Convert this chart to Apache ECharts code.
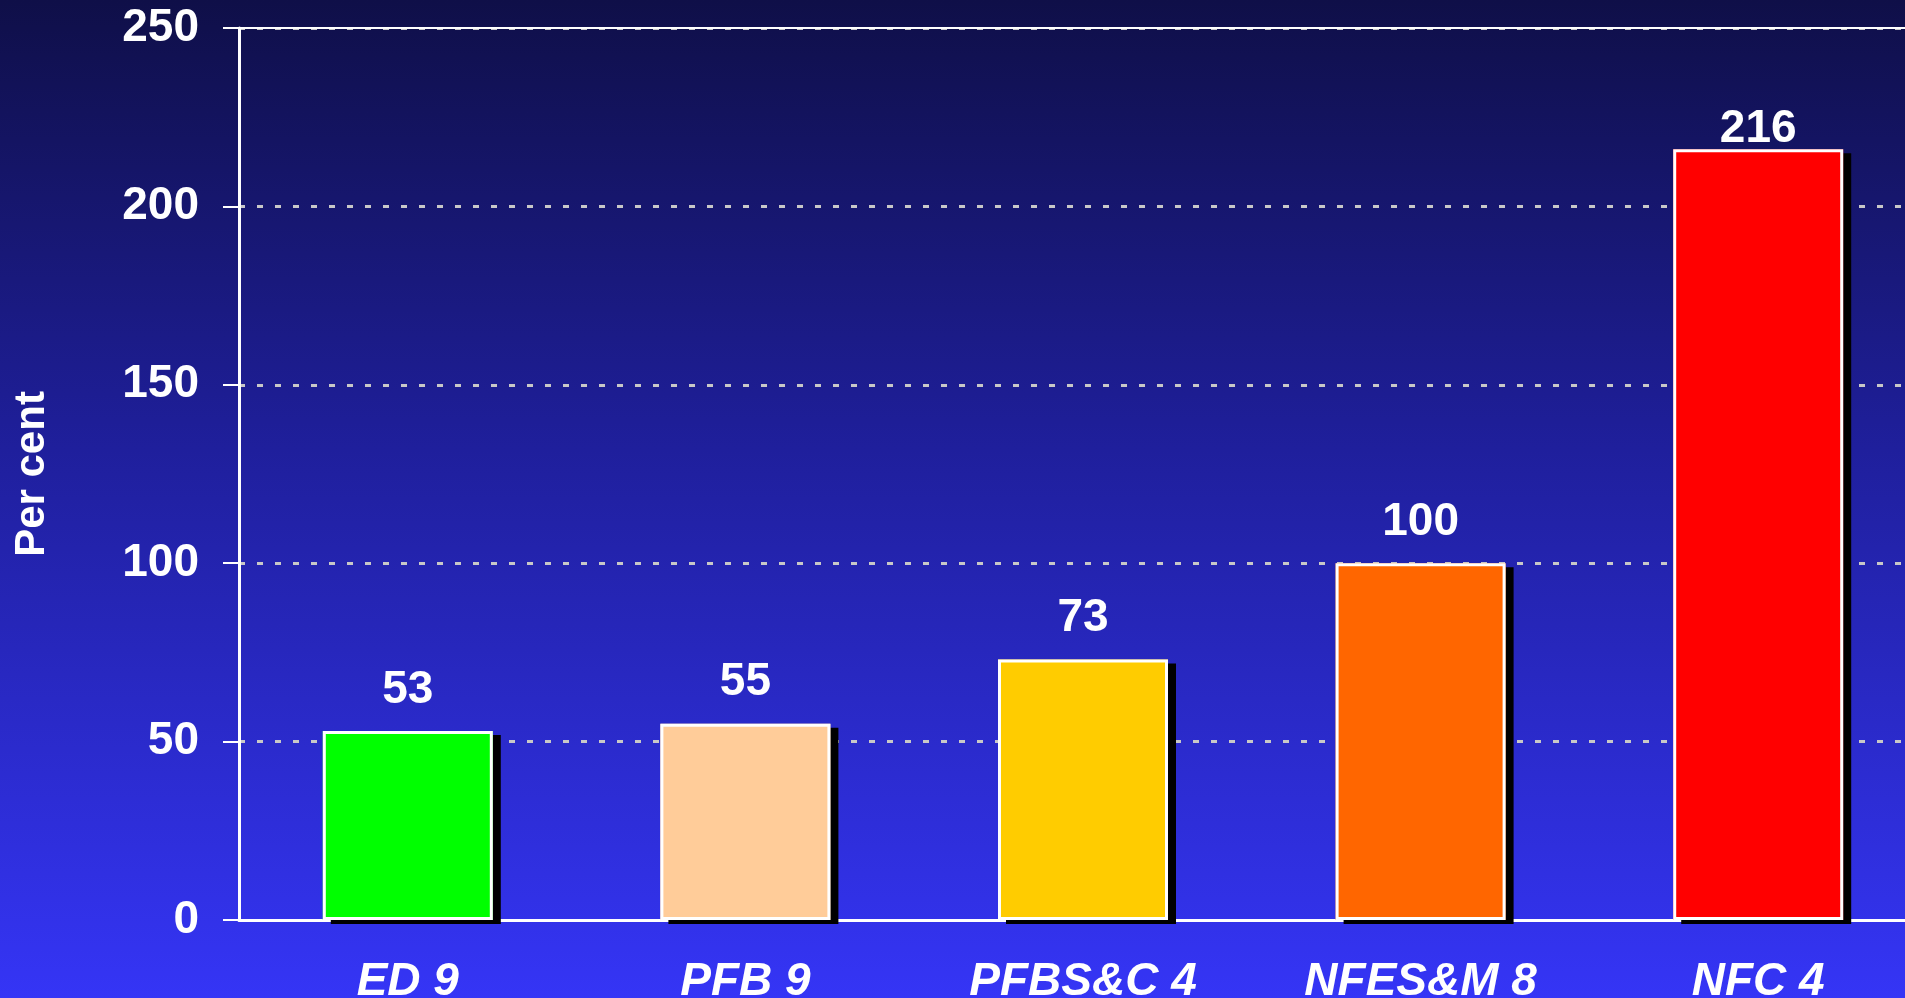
<!DOCTYPE html>
<html>
<head>
<meta charset="utf-8">
<script src="https://cdn.jsdelivr.net/npm/echarts@6/dist/echarts.min.js"></script>
<style>
  html, body { margin: 0; padding: 0; }
  #chart { width: 1905px; height: 998px; }
</style>
</head>
<body>
<div id="chart"></div>
<script>
// categories and values
var categories = ['ED 9', 'PFB 9', 'PFBS&C 4', 'NFES&M 8', 'NFC 4']
var values = [53, 55, 73, 100, 216]
var barColors = ['#00ff00', '#ffcc99', '#ffcc00', '#ff6600', '#ff0000']
var yTicks = [0, 50, 100, 150, 200, 250]

var font = '"Liberation Sans", Arial, sans-serif'

var chart = echarts.init(document.getElementById('chart'))

chart.setOption({
  animation: false,
  backgroundColor: {
    type: 'linear', x: 0, y: 0, x2: 0, y2: 1,
    colorStops: [
      { offset: 0, color: '#0f0f48' },
      { offset: 0.45, color: '#1f1f9c' },
      { offset: 1, color: '#3535f6' }
    ]
  },
  grid: {
    left: 239,
    top: 28,
    width: 1688,
    height: 892,
    outerBoundsMode: 'none'
  },
  xAxis: [{
    type: 'category',
    data: categories,
    axisLine: { lineStyle: { color: '#ffffff', width: 3 } },
    axisTick: { show: false },
    axisLabel: {
      color: '#ffffff',
      fontFamily: font,
      fontSize: 46,
      fontWeight: 'bold',
      fontStyle: 'italic',
      margin: 39
    }
  }, {
    // top border line of the plot
    type: 'category',
    data: categories,
    position: 'top',
    axisLine: { lineStyle: { color: '#ffffff', width: 2 } },
    axisTick: { show: false },
    axisLabel: { show: false }
  }],
  yAxis: {
    type: 'value',
    min: yTicks[0],
    max: yTicks[yTicks.length - 1],
    interval: 50,
    name: 'Per cent',
    nameLocation: 'middle',
    nameRotate: 90,
    nameGap: 186,
    nameTextStyle: {
      color: '#ffffff',
      fontFamily: font,
      fontSize: 42,
      fontWeight: 'bold'
    },
    axisLine: { show: true, lineStyle: { color: '#ffffff', width: 3 } },
    axisTick: { show: true, length: 16, lineStyle: { color: '#ffffff', width: 2 } },
    axisLabel: {
      color: '#ffffff',
      fontFamily: font,
      fontSize: 46,
      fontWeight: 'bold',
      margin: 40
    },
    splitLine: {
      lineStyle: { color: '#c8c8c8', width: 3, type: [6, 12] }
    }
  },
  series: [
    // filled bars with the black drop shadow
    {
      type: 'bar',
      barWidth: 170,
      barGap: '-100%',
      data: values.map(function (v, i) {
        return { value: v, itemStyle: { color: barColors[i] } }
      }),
      itemStyle: {
        shadowColor: '#000000',
        shadowBlur: 0,
        shadowOffsetX: 8,
        shadowOffsetY: 4
      }
    },
    // white outline and value labels on top
    {
      type: 'bar',
      barWidth: 170,
      barGap: '-100%',
      data: values.map(function (v) {
        // the tallest label sits closer to its bar so it fits under the top
        return v > 200 ? { value: v, label: { distance: -3 } } : v
      }),
      itemStyle: {
        color: 'transparent',
        borderColor: '#ffffff',
        borderWidth: 3
      },
      label: {
        show: true,
        position: 'top',
        distance: 18,
        color: '#ffffff',
        fontFamily: font,
        fontSize: 46,
        fontWeight: 'bold'
      }
    }
  ]
})
</script>
</body>
</html>
